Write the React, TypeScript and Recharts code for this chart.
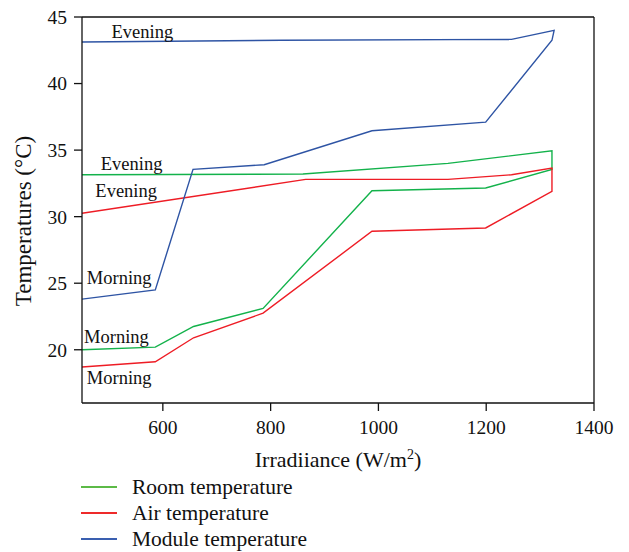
import { LineChart, Line, XAxis, YAxis, ReferenceDot, ReferenceLine, Label } from 'recharts'

// irradiance (W/m2) and temperature (°C) pairs, morning -> peak -> evening
const roomIrr = [450, 586, 657, 786, 988, 1199, 1322, 1322, 1129, 860, 450]
const roomTemp = [20.0, 20.2, 21.75, 23.1, 31.95, 32.15, 33.55, 34.95, 34.0, 33.2, 33.15]

const airIrr = [450, 586, 657, 786, 988, 1199, 1322, 1322, 1247, 1129, 865, 450]
const airTemp = [18.7, 19.1, 20.9, 22.75, 28.9, 29.15, 31.9, 33.65, 33.15, 32.8, 32.8, 30.25]

const moduleIrr = [450, 586, 656, 788, 988, 1199, 1322, 1326, 1247, 820, 450]
const moduleTemp = [23.8, 24.5, 33.55, 33.9, 36.45, 37.1, 43.25, 44.0, 43.32, 43.25, 43.12]

const xTicks = [600, 800, 1000, 1200, 1400]
const yTicks = [20, 25, 30, 35, 40, 45]

// period labels placed at [irradiance, temperature]
const periodLabels: [string, number, number][] = [
  ['Evening', 562, 43.9],
  ['Evening', 542, 34.0],
  ['Evening', 532, 31.95],
  ['Morning', 519, 25.45],
  ['Morning', 514, 21.0],
  ['Morning', 519, 17.9],
]

const seriesNames = ['Room temperature', 'Air temperature', 'Module temperature']
const lineColors = ['#13b24b', '#ee1c25', '#2e54a4']
const legendColors = ['#5cba47', '#ee2a2a', '#3a5fb0']

const toPoints = (xs: number[], ys: number[]) => xs.map((x, i) => ({ x, y: ys[i] }))

const font = '"Liberation Serif", serif'
const tickStyle = { fill: '#111', fontSize: 19.5, fontFamily: font }

export default function App() {
  const series = [
    toPoints(roomIrr, roomTemp),
    toPoints(airIrr, airTemp),
    toPoints(moduleIrr, moduleTemp),
  ]
  return (
    <div style={{ position: 'absolute', left: 0, top: 0, width: 629, height: 552, background: '#fff' }}>
      <LineChart width={629} height={552} margin={{ top: 17, right: 35, left: 22, bottom: 99 }}>
        <XAxis
          xAxisId="b"
          type="number"
          dataKey="x"
          domain={[450, 1400]}
          ticks={xTicks}
          allowDataOverflow
          height={50}
          stroke="#111"
          strokeWidth={1.3}
          tickSize={8}
          tickMargin={9}
          tick={tickStyle}
        >
          <Label
            content={() => (
              <text x={338} y={467} textAnchor="middle" fill="#111" fontSize={22} fontFamily={font}>
                Irradiiance (W/m<tspan dy={-8} fontSize={14}>2</tspan>
                <tspan dy={8}>)</tspan>
              </text>
            )}
          />
        </XAxis>
        <YAxis
          yAxisId="l"
          type="number"
          domain={[16, 45]}
          ticks={yTicks}
          allowDataOverflow
          width={60}
          stroke="#111"
          strokeWidth={1.3}
          tickSize={8}
          tickMargin={7}
          tick={tickStyle}
        >
          <Label
            content={() => (
              <text
                x={23}
                y={221}
                transform="rotate(-90 23 221)"
                textAnchor="middle"
                dominantBaseline="central"
                fill="#111"
                fontSize={23}
                fontFamily={font}
              >
                Temperatures (°C)
              </text>
            )}
          />
        </YAxis>
        <ReferenceLine xAxisId="b" yAxisId="l" y={45} stroke="#111" strokeWidth={1.3} />
        <ReferenceLine xAxisId="b" yAxisId="l" x={1400} stroke="#111" strokeWidth={1.3} />
        {series.map((pts, i) => (
          <Line
            key={seriesNames[i]}
            xAxisId="b"
            yAxisId="l"
            data={pts}
            dataKey="y"
            name={seriesNames[i]}
            type="linear"
            stroke={lineColors[i]}
            strokeWidth={1.4}
            dot={false}
            activeDot={false}
            isAnimationActive={false}
          />
        ))}
        {periodLabels.map(([text, x, y], i) => (
          <ReferenceDot
            key={i}
            xAxisId="b"
            yAxisId="l"
            x={x}
            y={y}
            r={0}
            stroke="none"
            fill="none"
            ifOverflow="visible"
            label={{ value: text, position: 'center', fill: '#111', fontSize: 18.5, fontFamily: font }}
          />
        ))}
      </LineChart>
      <div style={{ position: 'absolute', left: 81, top: 474, fontFamily: font, fontSize: 21.5, color: '#111' }}>
        {seriesNames.map((name, i) => (
          <div key={name} style={{ display: 'flex', alignItems: 'center', height: 26 }}>
            <span style={{ display: 'inline-block', width: 36, height: 2, background: legendColors[i], marginRight: 15 }} />
            <span>{name}</span>
          </div>
        ))}
      </div>
    </div>
  )
}
